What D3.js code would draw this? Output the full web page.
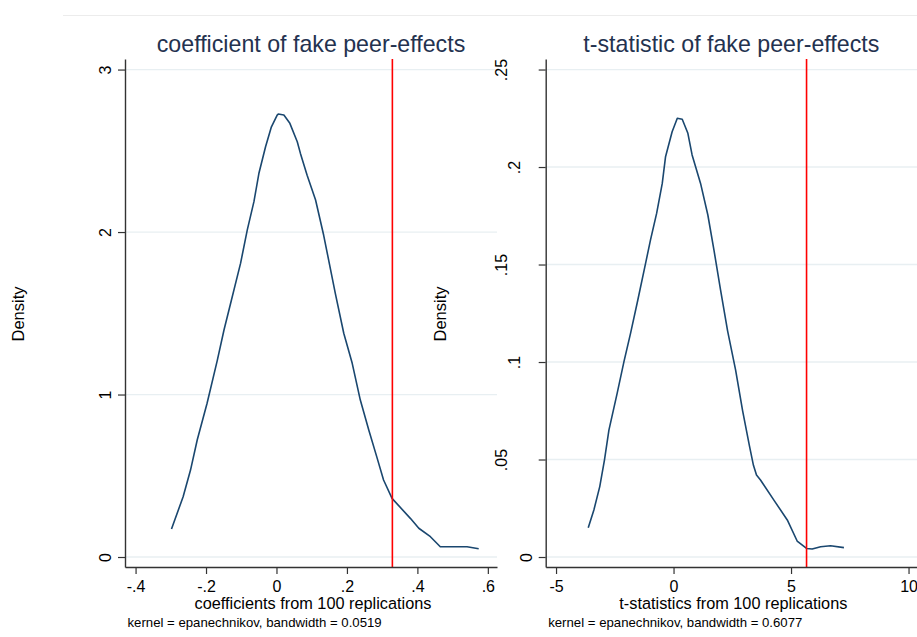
<!DOCTYPE html>
<html>
<head>
<meta charset="utf-8">
<script src="https://cdn.jsdelivr.net/npm/d3@7"></script>
<style>
  body { margin: 0; background: #fff; }
  text { font-family: "Liberation Sans", Arial, sans-serif; }
</style>
</head>
<body>
<div id="chart"></div>
<script>
// kernel density of fake peer-effect coefficients
var coefPoints = [
  [-0.298, 0.172], [-0.265, 0.371], [-0.244, 0.535], [-0.225, 0.72], [-0.197, 0.946],
  [-0.168, 1.21], [-0.149, 1.397], [-0.128, 1.58], [-0.102, 1.807], [-0.083, 2.012],
  [-0.064, 2.187], [-0.05, 2.36], [-0.031, 2.525], [-0.015, 2.644], [0.002, 2.72],
  [0.005, 2.726], [0.021, 2.72], [0.038, 2.669], [0.059, 2.556], [0.068, 2.484],
  [0.087, 2.35], [0.111, 2.197], [0.134, 1.98], [0.167, 1.623], [0.191, 1.377],
  [0.215, 1.192], [0.238, 0.966], [0.262, 0.782], [0.286, 0.607], [0.304, 0.474],
  [0.328, 0.361], [0.38, 0.238], [0.404, 0.177], [0.437, 0.125], [0.465, 0.063],
  [0.503, 0.063], [0.541, 0.063], [0.574, 0.051]
];
// kernel density of fake peer-effect t-statistics
var tstatPoints = [
  [-3.63, 0.015], [-3.39, 0.0241], [-3.14, 0.0361], [-2.94, 0.0497], [-2.75, 0.0651],
  [-2.4, 0.0839], [-2.11, 0.1002], [-1.83, 0.1147], [-1.52, 0.1318], [-1.19, 0.1506],
  [-0.98, 0.1626], [-0.72, 0.1762], [-0.48, 0.1916], [-0.34, 0.2053], [-0.06, 0.2181],
  [0.16, 0.225], [0.37, 0.2245], [0.61, 0.2173], [0.79, 0.2062], [1.15, 0.1916],
  [1.46, 0.1754], [1.72, 0.1574], [2.0, 0.137], [2.3, 0.116], [2.64, 0.096],
  [2.94, 0.075], [3.23, 0.057], [3.4, 0.047], [3.53, 0.042], [3.7, 0.0395],
  [4.27, 0.0292], [4.84, 0.019], [5.26, 0.0082], [5.66, 0.0044], [5.9, 0.0041],
  [6.26, 0.0053], [6.68, 0.0058], [7.25, 0.0048]
];
// actual (true) estimates drawn as red reference lines
var coefActual = 0.329;
var tstatActual = 5.66;

var coefXTicks = [-0.4, -0.2, 0, 0.2, 0.4, 0.6];
var coefXLabels = ["-.4", "-.2", "0", ".2", ".4", ".6"];
var coefYTicks = [0, 1, 2, 3];
var coefYLabels = ["0", "1", "2", "3"];
var tstatXTicks = [-5, 0, 5, 10];
var tstatXLabels = ["-5", "0", "5", "10"];
var tstatYTicks = [0, 0.05, 0.1, 0.15, 0.2, 0.25];
var tstatYLabels = ["0", ".05", ".1", ".15", ".2", ".25"];

var titles = ["coefficient of fake peer-effects", "t-statistic of fake peer-effects"];
var xTitles = ["coefficients from 100 replications", "t-statistics from 100 replications"];
var notes = ["kernel = epanechnikov, bandwidth = 0.0519", "kernel = epanechnikov, bandwidth = 0.6077"];

var width = 917, height = 637;
var navy = "#1a476f", gridCol = "#e8eff2", titleCol = "#24324f";
var tickFont = "16px";

var svg = d3.select("#chart").append("svg")
  .attr("width", width)
  .attr("height", height);

// faint frame line at the top of the combined graph
svg.append("line")
  .attr("x1", 63).attr("x2", width)
  .attr("y1", 15.5).attr("y2", 15.5)
  .attr("stroke", "#ececec").attr("stroke-width", 1);

var panels = [
  {
    points: coefPoints, actual: coefActual,
    xTicks: coefXTicks, xLabels: coefXLabels, yTicks: coefYTicks, yLabels: coefYLabels,
    xDomain: [-0.43, 0.626], yDomain: [-0.0615, 3.065],
    left: 125, right: 497, yTitleX: 18,
    title: titles[0], xTitle: xTitles[0], note: notes[0]
  },
  {
    points: tstatPoints, actual: tstatActual,
    xTicks: tstatXTicks, xLabels: tstatXLabels, yTicks: tstatYTicks, yLabels: tstatYLabels,
    xDomain: [-5.44, 10.36], yDomain: [-0.005125, 0.2554],
    left: 545.7, right: 917, yTitleX: 440,
    title: titles[1], xTitle: xTitles[1], note: notes[1]
  }
];

var plotTop = 59, plotBottom = 567;

panels.forEach(function(p) {
  var x = d3.scaleLinear().domain(p.xDomain).range([p.left, p.right]);
  var y = d3.scaleLinear().domain(p.yDomain).range([plotBottom, plotTop]);
  var g = svg.append("g");

  // gridlines
  g.selectAll(".grid")
    .data(p.yTicks)
    .enter()
    .append("line")
    .attr("x1", p.left).attr("x2", p.right)
    .attr("y1", function(d) { return y(d); })
    .attr("y2", function(d) { return y(d); })
    .attr("stroke", gridCol).attr("stroke-width", 1.3);

  // density curve
  var line = d3.line()
    .x(function(d) { return x(d[0]); })
    .y(function(d) { return y(d[1]); });
  g.append("path")
    .datum(p.points)
    .attr("d", line)
    .attr("fill", "none")
    .attr("stroke", navy)
    .attr("stroke-width", 1.6)
    .attr("stroke-linejoin", "round");

  // red reference line
  g.append("line")
    .attr("x1", x(p.actual)).attr("x2", x(p.actual))
    .attr("y1", plotTop).attr("y2", plotBottom)
    .attr("stroke", "#ff0000").attr("stroke-width", 1.6);

  // x axis
  var xAxis = d3.axisBottom(x)
    .tickValues(p.xTicks)
    .tickFormat(function(d, i) { return p.xLabels[i]; })
    .tickSize(7)
    .tickPadding(6.5)
    .tickSizeOuter(0);
  var gx = g.append("g")
    .attr("transform", "translate(0," + plotBottom + ")")
    .call(xAxis);
  gx.select(".domain").attr("stroke", "#333").attr("stroke-width", 1.4);
  gx.selectAll(".tick line").attr("stroke", "#333").attr("stroke-width", 1.2);
  gx.selectAll("text")
    .attr("fill", "#000")
    .style("font-size", tickFont)
    .style("font-family", "Liberation Sans, Arial, sans-serif");

  // y axis, labels turned vertical like Stata does
  var yAxis = d3.axisLeft(y)
    .tickValues(p.yTicks)
    .tickFormat(function(d, i) { return p.yLabels[i]; })
    .tickSize(7)
    .tickSizeOuter(0);
  var gy = g.append("g")
    .attr("transform", "translate(" + p.left + ",0)")
    .call(yAxis);
  gy.select(".domain").attr("stroke", "#333").attr("stroke-width", 1.4);
  gy.selectAll(".tick line").attr("stroke", "#333").attr("stroke-width", 1.2);
  gy.selectAll("text")
    .attr("fill", "#000")
    .style("font-size", tickFont)
    .style("font-family", "Liberation Sans, Arial, sans-serif")
    .attr("text-anchor", "middle")
    .attr("dy", "0.36em")
    .attr("x", null)
    .attr("transform", function(d, i) {
      var off = -7.3 - 12.3 * p.yLabels[i].length;
      return "translate(" + off + ",0) rotate(-90)";
    });

  // y axis title
  svg.append("text")
    .attr("transform", "translate(" + p.yTitleX + ",314) rotate(-90)")
    .attr("text-anchor", "middle")
    .attr("dy", "0.36em")
    .style("font-size", "16.5px")
    .attr("fill", "#000")
    .text("Density");

  var cx = (p.left + p.right) / 2;

  // title
  svg.append("text")
    .attr("x", cx).attr("y", 52)
    .attr("text-anchor", "middle")
    .style("font-size", "23.2px")
    .attr("fill", titleCol)
    .text(p.title);

  // x axis title
  svg.append("text")
    .attr("x", cx + 2).attr("y", 608.5)
    .attr("text-anchor", "middle")
    .style("font-size", "16.3px")
    .attr("fill", "#000")
    .text(p.xTitle);

  // kernel note
  svg.append("text")
    .attr("x", p.left + 2.5).attr("y", 627)
    .style("font-size", "13.2px")
    .attr("fill", "#000")
    .text(p.note);
});
</script>
</body>
</html>
